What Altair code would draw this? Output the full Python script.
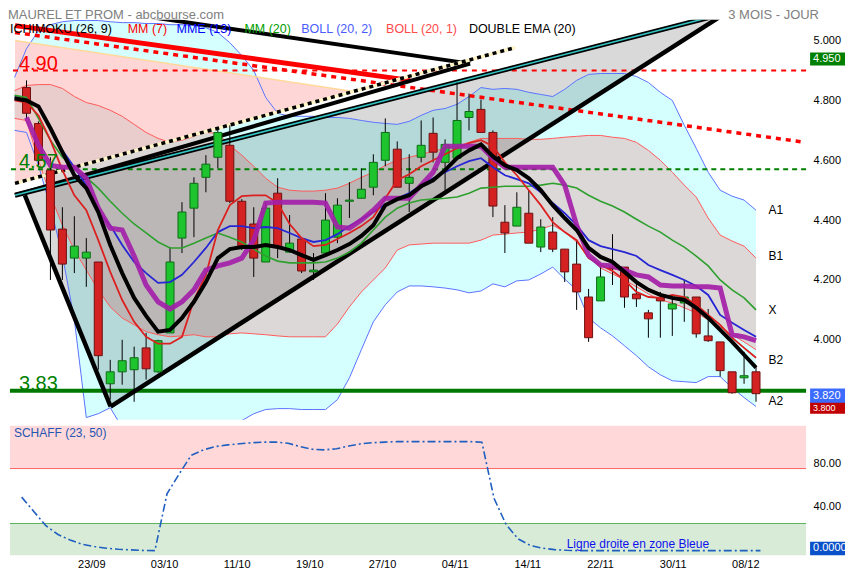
import altair as alt
import pandas as pd

FONT = "Liberation Sans"

# ---------------- data ----------------
# trading-day index: 0 = 15/09/2011 ... 61 = 09/12/2011 ; indicator lines start one day earlier (-1)
line_days = list(range(-1, 62))
candle_days = list(range(0, 62))

boll2_upper = [4.877, 4.973, 5.033, 5.053, 5.063, 5.067, 5.067, 5.067, 5.063, 5.06, 5.06,
               5.057, 5.057, 5.053, 5.053, 5.05, 5.043, 5.027, 4.993, 4.95, 4.9,
               4.81, 4.757, 4.747, 4.747, 4.747, 4.743, 4.743, 4.74, 4.733, 4.727,
               4.723, 4.72, 4.73, 4.75, 4.767, 4.773, 4.787, 4.813, 4.843, 4.837,
               4.84, 4.837, 4.827, 4.82, 4.813, 4.837, 4.867, 4.887, 4.89, 4.89,
               4.89, 4.88, 4.86, 4.827, 4.8, 4.717, 4.64, 4.56, 4.5, 4.48,
               4.467, 4.433]
boll2_lower = [4.7, 4.693, 4.583, 4.443, 4.283, 4.067, 3.74, 3.753, 3.773, 3.707, 3.683,
               3.673, 3.667, 3.663, 3.663, 3.667, 3.673, 3.687, 3.707, 3.73, 3.753,
               3.767, 3.77, 3.77, 3.767, 3.767, 3.767, 3.8, 3.873, 3.967, 4.06,
               4.117, 4.16, 4.18, 4.18, 4.177, 4.173, 4.167, 4.157, 4.163, 4.187,
               4.177, 4.197, 4.2, 4.22, 4.243, 4.203, 4.167, 4.073, 4.04, 4.013,
               3.98, 3.947, 3.91, 3.883, 3.863, 3.86, 3.857, 3.877, 3.877, 3.84,
               3.807, 3.777]
boll1_upper = [4.833, 4.85, 4.853, 4.853, 4.84, 4.813, 4.793, 4.783, 4.767, 4.747, 4.72,
               4.693, 4.673, 4.66, 4.667, 4.68, 4.693, 4.69, 4.65, 4.617, 4.58,
               4.54, 4.51, 4.5, 4.497, 4.497, 4.5, 4.507, 4.523, 4.543, 4.56,
               4.583, 4.6, 4.61, 4.62, 4.63, 4.64, 4.647, 4.66, 4.673, 4.673,
               4.673, 4.673, 4.67, 4.67, 4.673, 4.677, 4.68, 4.683, 4.683, 4.677,
               4.673, 4.66, 4.633, 4.6, 4.56, 4.517, 4.477, 4.407, 4.35, 4.33,
               4.313, 4.273]
boll1_lower = [4.74, 4.733, 4.6, 4.483, 4.383, 4.3, 4.233, 4.167, 4.11, 4.073, 4.05,
               4.027, 4.017, 4.01, 4.013, 4.017, 4.01, 4.01, 4.02, 4.023, 4.02,
               4.017, 4.013, 4.01, 4.01, 4.01, 4.01, 4.053, 4.11, 4.16, 4.2,
               4.24, 4.3, 4.317, 4.32, 4.323, 4.323, 4.323, 4.323, 4.333, 4.35,
               4.353, 4.357, 4.36, 4.37, 4.383, 4.36, 4.327, 4.28, 4.24, 4.22,
               4.2, 4.177, 4.153, 4.133, 4.123, 4.107, 4.09, 4.067, 4.043, 4.017,
               3.993, 3.967]
mm20 = [4.817, 4.81, 4.74, 4.667, 4.61, 4.577, 4.543, 4.507, 4.463, 4.423, 4.387,
        4.357, 4.327, 4.307, 4.307, 4.323, 4.34, 4.357, 4.343, 4.327, 4.303,
        4.28, 4.263, 4.257, 4.257, 4.257, 4.26, 4.273, 4.293, 4.323, 4.367,
        4.41, 4.44, 4.457, 4.467, 4.47, 4.473, 4.477, 4.49, 4.507, 4.51,
        4.513, 4.513, 4.513, 4.517, 4.523, 4.517, 4.507, 4.483, 4.463, 4.447,
        4.427, 4.403, 4.38, 4.36, 4.333, 4.31, 4.28, 4.247, 4.2, 4.167,
        4.14, 4.1]
mme13 = [4.81, 4.8, 4.78, 4.707, 4.633, 4.577, 4.517, 4.427, 4.383, 4.317, 4.26,
         4.223, 4.19, 4.193, 4.217, 4.26, 4.307, 4.36, 4.38, 4.38, 4.373,
         4.377, 4.373, 4.357, 4.34, 4.327, 4.333, 4.353, 4.38, 4.403, 4.427,
         4.453, 4.473, 4.49, 4.517, 4.54, 4.56, 4.58, 4.597, 4.607, 4.577,
         4.55, 4.537, 4.523, 4.493, 4.457, 4.423, 4.383, 4.333, 4.313, 4.303,
         4.293, 4.28, 4.25, 4.233, 4.217, 4.2, 4.18, 4.15, 4.083, 4.057,
         4.033, 4.01]
mm7 = [4.8, 4.793, 4.75, 4.667, 4.567, 4.483, 4.433, 4.333, 4.227, 4.133, 4.06,
       4.01, 3.987, 3.987, 4.01, 4.133, 4.217, 4.367, 4.45, 4.48, 4.483,
       4.483, 4.457, 4.387, 4.34, 4.313, 4.317, 4.337, 4.357, 4.38, 4.41,
       4.473, 4.533, 4.553, 4.58, 4.6, 4.62, 4.64, 4.657, 4.667, 4.647,
       4.593, 4.55, 4.5, 4.45, 4.393, 4.36, 4.333, 4.273, 4.25, 4.23,
       4.2, 4.16, 4.143, 4.14, 4.15, 4.143, 4.117, 4.083, 4.05, 4.007,
       3.973, 3.94]
dema20 = [4.807, 4.8, 4.78, 4.707, 4.627, 4.55, 4.507, 4.427, 4.317, 4.223, 4.14,
          4.08, 4.027, 4.033, 4.073, 4.127, 4.193, 4.273, 4.303, 4.31, 4.31,
          4.317, 4.31, 4.3, 4.283, 4.267, 4.283, 4.3, 4.32, 4.347, 4.383,
          4.45, 4.47, 4.483, 4.513, 4.533, 4.567, 4.607, 4.633, 4.653, 4.613,
          4.583, 4.567, 4.54, 4.5, 4.45, 4.407, 4.367, 4.307, 4.277, 4.26,
          4.227, 4.193, 4.167, 4.15, 4.14, 4.133, 4.107, 4.073, 4.033, 3.993,
          3.95, 3.907]
ichimoku = [4.743, 4.65, 4.583, 4.577, 4.577, 4.54, 4.44, 4.373, 4.367, 4.28,
            4.183, 4.127, 4.103, 4.127, 4.167, 4.233, 4.247, 4.257, 4.273, 4.333,
            4.457, 4.46, 4.46, 4.46, 4.46, 4.457, 4.377, 4.373, 4.4, 4.433,
            4.473, 4.473, 4.473, 4.517, 4.56, 4.647, 4.647, 4.647, 4.647, 4.607,
            4.577, 4.577, 4.577, 4.577, 4.577, 4.517, 4.383, 4.283, 4.25, 4.247,
            4.233, 4.217, 4.21, 4.183, 4.18, 4.18, 4.177, 4.177, 4.173, 4.017,
            4.01, 3.997]

c_open = [4.843, 4.723, 4.567, 4.37, 4.273, 4.273, 4.26, 3.853, 3.893, 3.9,
          3.973, 3.893, 4.023, 4.34, 4.44, 4.543, 4.61, 4.65, 4.463, 4.387,
          4.26, 4.49, 4.293, 4.337, 4.227, 4.29, 4.343, 4.463, 4.473, 4.51,
          4.6, 4.637, 4.523, 4.61, 4.69, 4.593, 4.607, 4.743, 4.77, 4.693,
          4.393, 4.38, 4.423, 4.31, 4.36, 4.303, 4.253, 4.143, 4.13, 4.243,
          4.243, 4.153, 4.09, 4.14, 4.103, 4.123, 4.143, 4.013, 3.993, 3.893,
          3.873, 3.893]
c_high = [4.867, 4.73, 4.61, 4.443, 4.413, 4.34, 4.26, 3.933, 4.0, 3.977,
          4.023, 4.0, 4.31, 4.46, 4.543, 4.617, 4.71, 4.717, 4.47, 4.443,
          4.46, 4.54, 4.417, 4.337, 4.29, 4.49, 4.473, 4.527, 4.573, 4.62,
          4.74, 4.663, 4.62, 4.733, 4.743, 4.67, 4.86, 4.823, 4.803, 4.7,
          4.45, 4.493, 4.5, 4.403, 4.41, 4.303, 4.333, 4.17, 4.243, 4.353,
          4.243, 4.2, 4.1, 4.16, 4.143, 4.2, 4.143, 4.103, 3.993, 3.893,
          3.96, 3.91]
c_low = [4.74, 4.583, 4.2, 4.2, 4.223, 4.177, 3.9, 3.8, 3.85, 3.793,
         3.867, 3.89, 4.023, 4.29, 4.343, 4.493, 4.573, 4.457, 4.3, 4.21,
         4.26, 4.273, 4.29, 4.223, 4.2, 4.29, 4.323, 4.407, 4.473, 4.483,
         4.58, 4.51, 4.427, 4.593, 4.593, 4.5, 4.607, 4.7, 4.693, 4.41,
         4.29, 4.38, 4.323, 4.293, 4.293, 4.193, 4.1, 3.993, 4.13, 4.183,
         4.107, 4.11, 4.007, 4.007, 4.013, 4.06, 4.007, 3.993, 3.877, 3.82,
         3.853, 3.793]
c_close = [4.757, 4.6, 4.367, 4.253, 4.313, 4.293, 3.947, 3.893, 3.93, 3.94,
           3.903, 3.997, 4.26, 4.427, 4.523, 4.587, 4.693, 4.463, 4.31, 4.273,
           4.44, 4.31, 4.323, 4.23, 4.233, 4.4, 4.45, 4.467, 4.503, 4.593,
           4.693, 4.51, 4.543, 4.65, 4.627, 4.653, 4.733, 4.763, 4.693, 4.447,
           4.357, 4.443, 4.323, 4.377, 4.303, 4.227, 4.16, 4.007, 4.21, 4.237,
           4.143, 4.137, 4.07, 4.13, 4.12, 4.143, 4.02, 3.997, 3.897, 3.823,
           3.88, 3.82]

schaff = [49, 36, 23, 15, 10, 6, 4, 2.5, 1.5, 1,
          0.5, 0.3, 52, 70, 87, 92, 95, 96.5, 97.5, 98.5,
          99, 99, 98, 95, 92.5, 92, 93, 95.5, 97.5, 98.5,
          99, 99.5, 99.5, 99.5, 99.5, 99.5, 99.5, 99.5, 99, 48,
          24, 11, 5, 2.5, 1.2, 0.6, 0.3, 0.3, 0.3, 0.3,
          0.3, 0.3, 0.3, 0.3, 0.3, 0.3, 0.3, 0.3, 0.3, 0.3,
          0.3, 0.3]

tick_days = [6, 12, 18, 24, 30, 36, 42, 48, 54, 60]
tick_labels = ["23/09", "03/10", "11/10", "19/10", "27/10", "04/11", "14/11", "22/11", "30/11", "08/12"]

# hand-drawn trendlines: (start day, start price, end day, end price)
trend_red_solid = (-0.96, 5.05, 32.07, 4.867)
trend_red_dotted = (-0.96, 5.027, 65.1, 4.66)
trend_black_top = (8.92, 5.087, 37.09, 4.923)
trend_black_back = (37.09, 4.923, -0.96, 4.483)
trend_teal = (-0.96, 4.483, 59.99, 5.107)
trend_dotted = (-0.96, 4.523, 40.88, 4.977)
trend_rising = (7.03, 3.777, 59.17, 5.11)
trend_left = (-0.14, 4.483, 7.03, 3.777)
trend_peach = (-0.96, 5.0, 27.29, 4.83)

# shaded drawing zones
gray_zone_days = [-0.964, -0.14, 7.03, 58.84]
gray_zone_top = [4.483, 4.491, 4.565, 5.095]
gray_zone_bottom = [4.483, 4.483, 3.777, 5.095]
pink_zone_days = [-0.964, 27.29]
pink_zone_top = [5.0, 4.83]
pink_zone_bottom = [4.523, 4.83]

levels = [4.90, 4.57, 3.83]
level_texts = ["4.90", "4.57", "3.83"]

band_names = ["A1", "B1", "X", "B2", "A2"]
band_prices = [4.433, 4.28, 4.1, 3.933, 3.797]

legend_texts = ["ICHIMOKU (26, 9)", "MM (7)", "MME (13)", "MM (20)", "BOLL (20, 2)", "BOLL (20, 1)", "DOUBLE EMA (20)"]
legend_colors = ["#000000", "#ff0000", "#0000ff", "#00a000", "#4a5cff", "#ff4a4a", "#000000"]

# ---------------- scales / helpers ----------------
W, H1, H2 = 798, 401, 130
X_DOM = [-0.964, 64.77]
Y_DOM = [3.733, 5.07]
S_DOM = [-4, 114]

xs = alt.Scale(domain=X_DOM, nice=False, zero=False)
ys = alt.Scale(domain=Y_DOM, nice=False, zero=False)
ss = alt.Scale(domain=S_DOM, nice=False, zero=False)

y_axis = alt.Axis(orient="right", values=[4.0, 4.2, 4.4, 4.6, 4.8, 5.0], format=".3f", grid=False,
                  domain=False, ticks=False, labelPadding=7, labelFont=FONT, labelFontSize=11,
                  labelColor="#000000", title=None)
s_axis = alt.Axis(orient="right", values=[40, 80], format=".2f", grid=False, domain=False, ticks=False,
                  labelPadding=7, labelFont=FONT, labelFontSize=11, labelColor="#000000", title=None)
labels_js = "[" + ",".join("'%s'" % s for s in tick_labels) + "]"
x_axis_low = alt.Axis(values=tick_days, labelExpr=labels_js + "[round(datum.value/6)-1]", grid=False,
                      domain=False, ticks=False, labelPadding=3, labelFont=FONT, labelFontSize=11,
                      labelColor="#000000", title=None, labelOffset=-3)


def X(f):
    return alt.X(f + ":Q", scale=xs, axis=None)


def Y(f):
    return alt.Y(f + ":Q", scale=ys, axis=y_axis)


def XL(f):
    return alt.X(f + ":Q", scale=xs, axis=x_axis_low)


def SY(f):
    return alt.Y(f + ":Q", scale=ss, axis=s_axis)


def seg(t):
    return pd.DataFrame({"i": [t[0], t[2]], "p": [t[1], t[3]]})


def seg_line(t, color, width, dash=None):
    kw = dict(color=color, strokeWidth=width, clip=True)
    if dash:
        kw["strokeDash"] = dash
    return alt.Chart(seg(t)).mark_line(**kw).encode(x=X("i"), y=Y("p"))


df_lines = pd.DataFrame({"i": line_days, "b2u": boll2_upper, "b2l": boll2_lower, "b1u": boll1_upper,
                         "b1l": boll1_lower, "mm20": mm20, "mme13": mme13, "mm7": mm7, "dema": dema20})
df_ichi = pd.DataFrame({"i": candle_days, "v": ichimoku})
df_c = pd.DataFrame({"i": candle_days, "o": c_open, "h": c_high, "l": c_low, "c": c_close})
df_c["fill"] = ["#1ec42e" if c >= o else "#d42222" for o, c in zip(c_open, c_close)]
df_c["edge"] = ["#0e6a16" if c >= o else "#6e1010" for o, c in zip(c_open, c_close)]
df_gray = pd.DataFrame({"i": gray_zone_days, "t": gray_zone_top, "b": gray_zone_bottom})
df_pink = pd.DataFrame({"i": pink_zone_days, "t": pink_zone_top, "b": pink_zone_bottom})
df_sch = pd.DataFrame({"i": candle_days, "s": schaff})


def ma(field, color, width, opacity=1.0):
    return alt.Chart(df_lines).mark_line(color=color, strokeWidth=width, clip=True, opacity=opacity).encode(
        x=X("i"), y=Y(field))


layers = []
layers.append(alt.Chart(df_lines).mark_area(color="#d5ffff", clip=True).encode(x=X("i"), y=Y("b2u"), y2=alt.Y2("b2l")))
layers.append(alt.Chart(df_pink).mark_area(color="#ffd6d6", clip=True).encode(x=X("i"), y=Y("t"), y2=alt.Y2("b")))
layers.append(alt.Chart(df_lines).mark_area(color="#dfc8c8", opacity=0.7, clip=True).encode(x=X("i"), y=Y("b1u"), y2=alt.Y2("b1l")))
layers.append(alt.Chart(df_gray).mark_area(color="#000000", opacity=0.15, clip=True).encode(x=X("i"), y=Y("t"), y2=alt.Y2("b")))
layers += [ma("b2u", "#5a72ff", 1), ma("b2l", "#5a72ff", 1), ma("b1u", "#ff5a5a", 1), ma("b1l", "#ff5a5a", 1)]
layers.append(seg_line(trend_peach, "#ffd89a", 1.5))
layers.append(alt.Chart(pd.DataFrame({"p": [levels[0]]})).mark_rule(color="#ff0000", strokeWidth=2.2, strokeDash=[5, 5]).encode(y=Y("p")))
layers.append(alt.Chart(pd.DataFrame({"p": [levels[1]]})).mark_rule(color="#008000", strokeWidth=2.2, strokeDash=[5, 4]).encode(y=Y("p")))
layers.append(alt.Chart(pd.DataFrame({"p": [levels[2]]})).mark_rule(color="#007800", strokeWidth=4).encode(y=Y("p")))
layers += [
    seg_line(trend_red_solid, "#ff0000", 5),
    seg_line(trend_red_dotted, "#ff0000", 3.5, [5, 5]),
    seg_line(trend_black_top, "#000000", 4),
    seg_line(trend_black_back, "#000000", 4),
    seg_line(trend_teal, "#000000", 5),
    seg_line(trend_teal, "#33c4c4", 1.6),
    seg_line(trend_dotted, "#fff4c8", 3.5),
    seg_line(trend_dotted, "#000000", 3.5, [4, 4]),
    seg_line(trend_rising, "#000000", 4.5),
    seg_line(trend_left, "#000000", 4.5),
]
layers.append(alt.Chart(df_c).mark_rule(color="#000000", strokeWidth=1, clip=True).encode(x=X("i"), y=Y("l"), y2=alt.Y2("h")))
layers.append(alt.Chart(df_c).mark_bar(size=8, strokeWidth=1, clip=True).encode(
    x=X("i"), y=Y("o"), y2=alt.Y2("c"), fill=alt.Fill("fill:N", scale=None), stroke=alt.Stroke("edge:N", scale=None)))
layers += [ma("mm20", "#2ea02e", 1.6), ma("mme13", "#2626d4", 1.8), ma("mm7", "#dc2020", 1.8)]
layers.append(alt.Chart(df_ichi).mark_line(color="#a31fa8", strokeWidth=5, clip=True, opacity=0.92).encode(x=X("i"), y=Y("v")))
layers.append(ma("dema", "#000000", 4))

df_lv = pd.DataFrame({"i": [-0.634] * 3, "p": levels, "t": level_texts, "col": ["#ff0000", "#008000", "#008000"]})
layers.append(alt.Chart(df_lv).mark_text(align="left", baseline="alphabetic", dy=-1, fontSize=20, font=FONT).encode(
    x=X("i"), y=Y("p"), text="t:N", color=alt.Color("col:N", scale=None)))
df_bn = pd.DataFrame({"i": [62.05] * 5, "p": band_prices, "t": band_names})
layers.append(alt.Chart(df_bn).mark_text(align="left", baseline="middle", fontSize=12, font=FONT, color="#000000").encode(
    x=X("i"), y=Y("p"), text="t:N"))

# price boxes on the right
df_box = pd.DataFrame({"lo": [4.917, 3.753, 3.79], "hi": [4.96, 3.793, 3.837], "mid": [4.938, 3.773, 3.813],
                       "t": ["4.950", "3.800", "3.820"], "col": ["#008000", "#c00000", "#3c6cff"],
                       "fs": [11, 9, 11]})
for k in range(3):
    d = df_box.iloc[[k]]
    layers.append(alt.Chart(d).mark_rect().encode(x=alt.value(802), x2=alt.value(837), y=Y("hi"), y2=alt.Y2("lo"),
                                                   color=alt.Color("col:N", scale=None)))
    layers.append(alt.Chart(d).mark_text(align="left", baseline="middle", fontSize=int(df_box["fs"][k]), font=FONT,
                                         color="#ffffff").encode(x=alt.value(805), y=Y("mid"), text="t:N"))

one = alt.Data(values=[{}])
layers.append(alt.Chart(one).mark_text(text="MAUREL ET PROM - abcbourse.com", x=-2, y=-11, align="left", baseline="top",
                                       fontSize=13, font=FONT, color="#808080"))
layers.append(alt.Chart(one).mark_text(text="3 MOIS - JOUR", x=720, y=-11, align="left", baseline="top",
                                       fontSize=13, font=FONT, color="#808080"))
legend_x = [0, 118, 167, 235, 292, 377, 460]
for t, c, px in zip(legend_texts, legend_colors, legend_x):
    layers.append(alt.Chart(one).mark_text(text=t, x=px, y=9.5, align="left", baseline="middle",
                                           fontSize=12.5, font=FONT, color=c))

main = alt.layer(*layers).properties(width=W, height=H1)

# ---------------- lower panel (Schaff) ----------------
low = []
df_bands = pd.DataFrame({"lo": [75, -4], "hi": [114, 25], "col": ["#ffd9d9", "#d7ebd7"]})
low.append(alt.Chart(df_bands).mark_rect().encode(x=alt.value(0), x2=alt.value(W), y=SY("hi"), y2=alt.Y2("lo"),
                                                  color=alt.Color("col:N", scale=None)))
low.append(alt.Chart(pd.DataFrame({"s": [75]})).mark_rule(color="#ff6464", strokeWidth=1).encode(y=SY("s")))
low.append(alt.Chart(pd.DataFrame({"s": [25]})).mark_rule(color="#5cb45c", strokeWidth=1).encode(y=SY("s")))
low.append(alt.Chart(df_sch).mark_line(color="#1f5fbf", strokeWidth=1.6, strokeDash=[8, 3, 2, 3]).encode(
    x=XL("i"), y=SY("s")))
low.append(alt.Chart(pd.DataFrame({"i": [45.0], "s": [6.5], "t": ["Ligne droite en zone Bleue"]})).mark_text(
    align="left", baseline="middle", fontSize=12, font=FONT, color="#1010ee").encode(x=XL("i"), y=SY("s"), text="t:N"))
low.append(alt.Chart(one).mark_text(text="SCHAFF (23, 50)", x=4, y=7, align="left", baseline="middle",
                                    fontSize=12, font=FONT, color="#2456b4"))
df_sbox = pd.DataFrame({"lo": [-4], "hi": [8.5], "mid": [2.25], "t": ["0.0000"]})
low.append(alt.Chart(df_sbox).mark_rect(color="#0a50c8").encode(x=alt.value(802), x2=alt.value(837), y=SY("hi"), y2=alt.Y2("lo")))
low.append(alt.Chart(df_sbox).mark_text(align="left", baseline="middle", fontSize=11, font=FONT, color="#ffffff").encode(
    x=alt.value(805), y=SY("mid"), text="t:N"))

lower = alt.layer(*low).properties(width=W, height=H2)

chart = alt.vconcat(main, lower, spacing=6, bounds="flush").resolve_scale(
    x="independent", y="independent").properties(
    padding={"left": 0, "top": 0, "right": 0, "bottom": 0}, background="white").configure_view(stroke=None)

chart.save("out.html", embed_options={"renderer": "svg", "actions": False})
